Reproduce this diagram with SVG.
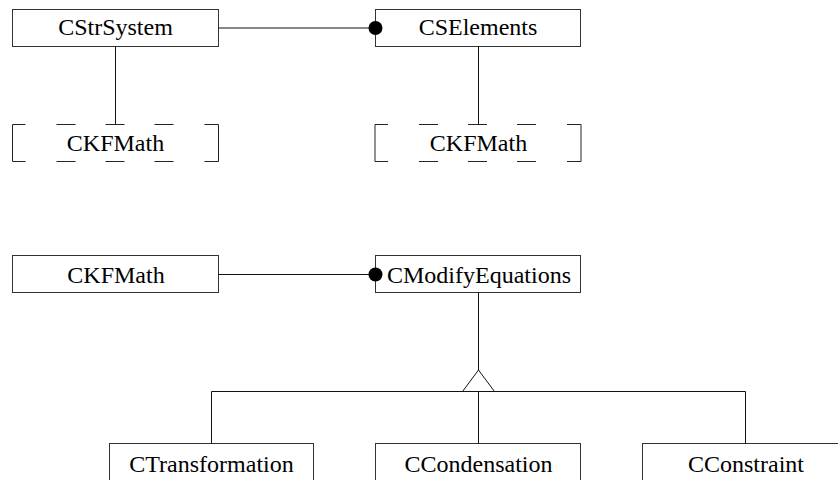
<svg xmlns="http://www.w3.org/2000/svg" xmlns:xlink="http://www.w3.org/1999/xlink" width="838" height="480" viewBox="0 0 838 480">
<style>
.box{fill:#fff;stroke:#333;stroke-width:1}
.lbl{font-family:"Liberation Serif","Times New Roman",serif;font-size:24px;fill:#000;text-anchor:middle}
.ln{fill:none;stroke:#111;stroke-width:1}
.dash{fill:none;stroke:#222;stroke-width:1}
.dot{fill:#000}
.tri{fill:#fff;stroke:#111;stroke-width:1}
</style>
<defs>
<path id="dashbox" class="dash" d="M13,0H0V37H13M44,0H63M93,0H112M142,0H161M192,0H206V37H192M44,37H63M93,37H112M142,37H161"/>
</defs>
<rect width="838" height="480" fill="#fff"/>
<g id="CStrSystem">
<rect class="box" x="12.5" y="9.5" width="206" height="37"/>
<text class="lbl" x="115.5" y="35">CStrSystem</text>
</g>
<g id="CSElements">
<rect class="box" x="375.5" y="9.5" width="205" height="37"/>
<text class="lbl" x="478" y="35">CSElements</text>
</g>
<g id="CKFMath1">
<use xlink:href="#dashbox" href="#dashbox" transform="translate(12.5,124.5)"/>
<text class="lbl" x="115.5" y="151">CKFMath</text>
</g>
<g id="CKFMath2">
<use xlink:href="#dashbox" href="#dashbox" transform="translate(375,124.5)"/>
<text class="lbl" x="478.5" y="151">CKFMath</text>
</g>
<g id="CKFMath3">
<rect class="box" x="12.5" y="255.5" width="206" height="37"/>
<text class="lbl" x="116" y="282.5">CKFMath</text>
</g>
<g id="CModifyEquations">
<rect class="box" x="375.5" y="255.5" width="205" height="37"/>
<text class="lbl" x="479" y="282.5">CModifyEquations</text>
</g>
<g id="CTransformation">
<rect class="box" x="109.5" y="443.5" width="204" height="37"/>
<text class="lbl" x="211.5" y="471.5">CTransformation</text>
</g>
<g id="CCondensation">
<rect class="box" x="375.5" y="443.5" width="205" height="37"/>
<text class="lbl" x="478.5" y="471.5">CCondensation</text>
</g>
<g id="CConstraint">
<rect class="box" x="642.5" y="443.5" width="205" height="37"/>
<text class="lbl" x="746" y="471.5">CConstraint</text>
</g>
<g id="connectors">
<line class="ln" x1="218.5" y1="28" x2="375" y2="28"/>
<circle class="dot" cx="375.5" cy="28" r="7"/>
<line class="ln" x1="115.5" y1="46.5" x2="115.5" y2="124"/>
<line class="ln" x1="478.5" y1="46.5" x2="478.5" y2="124"/>
<line class="ln" x1="218.5" y1="274.5" x2="375" y2="274.5"/>
<circle class="dot" cx="375.5" cy="274.5" r="7"/>
<line class="ln" x1="478.5" y1="292.5" x2="478.5" y2="370"/>
<path class="ln" d="M211.5,391.5H745.5M211.5,391.5V443.5M478.5,391.5V443.5M745.5,391.5V443.5"/>
<polygon class="tri" points="478.5,370 462.5,391.5 494.5,391.5"/>
</g>
</svg>
